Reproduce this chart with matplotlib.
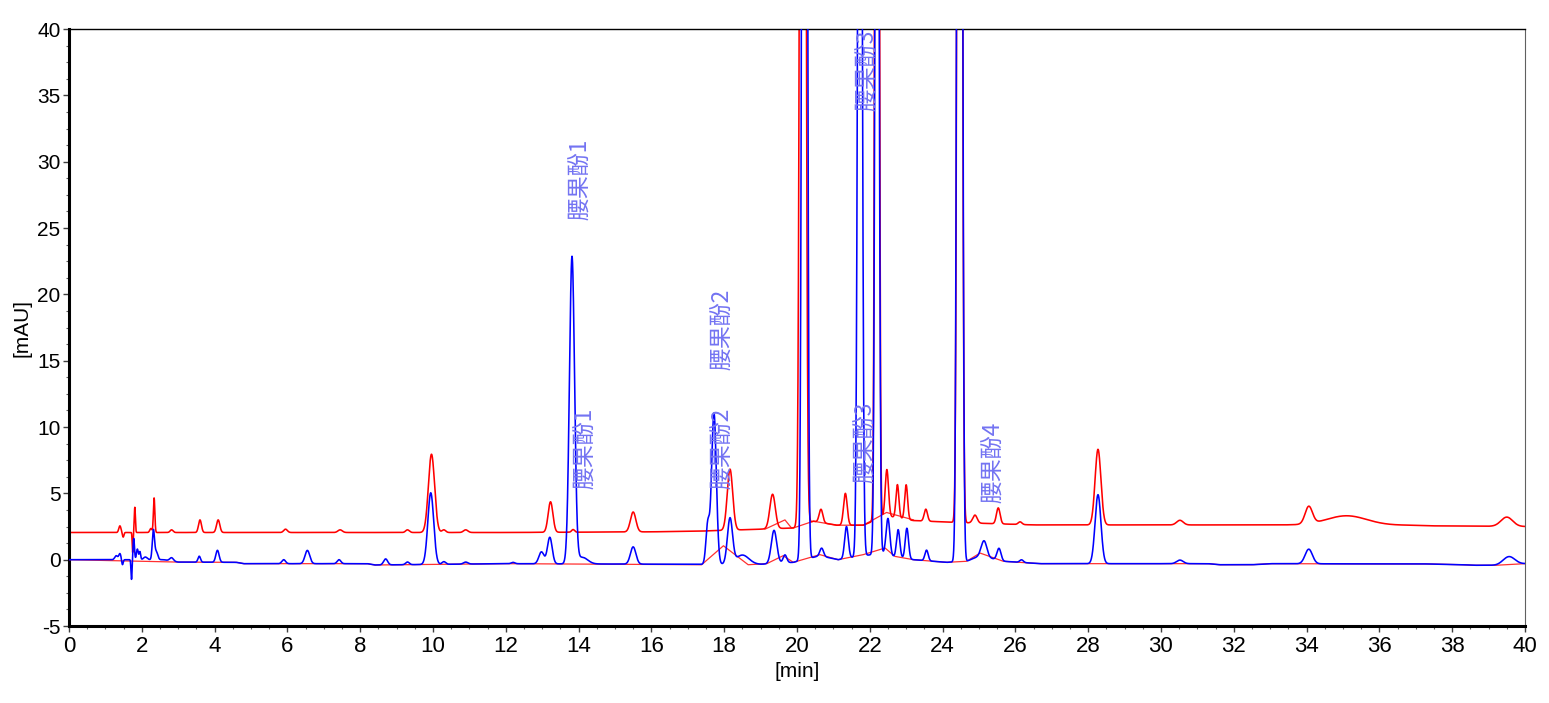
import numpy as np
import matplotlib
matplotlib.use('Agg')
from matplotlib import pyplot as plt
from matplotlib.ticker import MultipleLocator

plt.rcParams['axes.unicode_minus'] = False

# peak tables: retention time [min], height [mAU], width (sigma) [min]
blue_rt = [1.3, 1.4, 1.47, 1.72, 1.78, 1.88, 1.95, 2.1, 2.32, 2.4, 2.82, 3.58, 4.08,
           5.9, 6.55, 7.42, 8.7, 9.3, 9.94, 10.3, 10.9, 12.2, 12.98, 13.21, 13.82, 14.1,
           15.5, 17.55, 17.72, 18.16, 18.5, 19.37, 19.67, 20.21, 20.68, 21.36, 21.73,
           22.2, 22.5, 22.78, 23.02, 23.56, 24.47, 25.14, 25.55, 26.17, 28.27, 30.52,
           34.06, 39.56]
blue_h = [0.3, 0.45, -0.4, -1.5, 1.6, 0.8, 0.6, 0.2, 2.2, 0.6, 0.25, 0.45, 0.9,
          0.3, 1.0, 0.3, 0.45, 0.2, 5.4, 0.2, 0.15, 0.1, 0.9, 2.0, 23.1, 0.5,
          1.3, 3.0, 11.4, 3.4, 0.7, 2.5, 0.6, 200, 0.6, 2.4, 100,
          100, 2.7, 2.1, 2.3, 0.8, 200, 1.2, 0.9, 0.2, 5.2, 0.27,
          1.1, 0.6]
blue_w = [0.04, 0.03, 0.02, 0.015, 0.02, 0.025, 0.02, 0.05, 0.03, 0.04, 0.05, 0.035, 0.045,
          0.05, 0.065, 0.05, 0.055, 0.05, 0.08, 0.05, 0.06, 0.05, 0.07, 0.065, 0.07, 0.15,
          0.075, 0.05, 0.065, 0.07, 0.18, 0.075, 0.05, 0.05, 0.05, 0.05, 0.05,
          0.045, 0.05, 0.045, 0.045, 0.045, 0.05, 0.075, 0.055, 0.05, 0.08, 0.09,
          0.1, 0.16]

red_rt = [1.4, 1.49, 1.75, 1.81, 2.25, 2.34, 2.82, 3.6, 4.1, 5.95, 7.45, 9.3, 9.96,
          10.3, 10.9, 13.23, 13.85, 15.5, 18.16, 19.33, 20.16, 20.66, 21.33, 22.2,
          22.47, 22.76, 23.0, 23.54, 24.47, 24.89, 25.53, 26.13, 28.27, 30.52, 34.06,
          35.1, 39.5]
red_h = [0.5, -0.35, -1.5, 1.9, 0.3, 2.6, 0.2, 0.95, 0.95, 0.25, 0.2, 0.2, 5.9,
         0.2, 0.2, 2.3, 0.2, 1.5, 4.6, 2.6, 200, 1.0, 2.4, 200,
         3.5, 2.5, 2.6, 0.9, 200, 0.6, 1.2, 0.2, 5.7, 0.35, 1.3,
         0.7, 0.7]
red_w = [0.03, 0.02, 0.012, 0.015, 0.03, 0.02, 0.04, 0.04, 0.045, 0.05, 0.06, 0.05, 0.085,
         0.05, 0.06, 0.065, 0.04, 0.075, 0.075, 0.075, 0.055, 0.05, 0.05, 0.04,
         0.045, 0.04, 0.04, 0.045, 0.047, 0.06, 0.05, 0.05, 0.08, 0.09, 0.1,
         0.55, 0.16]

# drifting baselines of both traces
blue_base_t = [0, 2.6, 3.0, 4.6, 4.8, 8.2, 8.4, 12.0, 17.3, 19.0, 19.9, 20.63, 21.13,
               21.82, 22.42, 22.69, 23.2, 24.11, 24.66, 25.03, 25.67, 26.68, 31.3, 31.6,
               32.5, 33.0, 36.0, 37.3, 38.3, 38.6, 39.2, 40]
blue_base_v = [0, 0, -0.18, -0.2, -0.3, -0.3, -0.4, -0.3, -0.35, -0.35, -0.2, 0.3, 0.0,
               0.3, 0.5, 0.2, 0.0, -0.2, -0.12, 0.3, -0.12, -0.3, -0.3, -0.38,
               -0.38, -0.3, -0.32, -0.32, -0.38, -0.42, -0.42, -0.3]
red_base_t = [0, 12, 16, 17.3, 19.0, 19.9, 20.45, 21.09, 21.82, 22.46, 23.2, 24.0, 25.0,
              26.5, 33.5, 36.8, 37.5, 40]
red_base_v = [2.05, 2.05, 2.1, 2.15, 2.3, 2.39, 2.9, 2.6, 2.6, 3.3, 2.95, 2.85, 2.75,
              2.62, 2.62, 2.6, 2.55, 2.5]

# integration baselines (drawn in red)
blue_int_t = [0, 3.0, 4.6, 4.8, 8.2, 8.4, 12.0, 17.38, 17.98, 18.66, 19.17, 19.62, 19.9,
              20.63, 21.13, 21.82, 22.42, 22.69, 23.2, 24.11, 24.66, 25.03, 25.67, 26.68,
              31.3, 31.6, 32.5, 33.0, 36.0, 37.3, 38.3, 38.6, 39.2, 40]
blue_int_v = [0, -0.18, -0.2, -0.3, -0.3, -0.4, -0.3, -0.38, 1.05, -0.38, -0.3, 0.3, -0.2,
              0.38, 0.0, 0.38, 0.88, 0.25, 0.0, -0.2, -0.12, 0.5, -0.12, -0.3,
              -0.3, -0.38, -0.38, -0.3, -0.32, -0.32, -0.38, -0.42, -0.42, -0.3]
red_int_t = [19.12, 19.67, 19.85, 19.9, 20.45, 21.09, 21.82, 22.46, 23.2]
red_int_v = [2.3, 3.0, 2.39, 2.39, 2.9, 2.6, 2.6, 3.56, 3.0]

labels = ['腰果酚1', '腰果酚1', '腰果酚2', '腰果酚2', '腰果酚3', '腰果酚3', '腰果酚4']
label_x = [14.04, 14.18, 17.94, 17.94, 21.92, 21.87, 25.38]
label_y = [25.6, 5.3, 14.3, 5.3, 33.8, 5.8, 4.3]


def trace(t, base_t, base_v, rt, h, w):
    y = np.interp(t, base_t, base_v)
    for r, a, s in zip(rt, h, w):
        y = y + a * np.exp(-0.5 * ((t - r) / s) ** 2)
    return y


t = np.linspace(0, 40, 16001)
blue = trace(t, blue_base_t, blue_base_v, blue_rt, blue_h, blue_w)
red = trace(t, red_base_t, red_base_v, red_rt, red_h, red_w)

fig = plt.figure(figsize=(15.49, 7.03), dpi=100)
ax = fig.add_axes([0.0445, 0.1095, 0.94, 0.8492])

ax.plot(red_int_t, red_int_v, color='#ff3030', lw=0.9, zorder=1)
ax.plot(t, red, color='#ff0000', lw=1.15, zorder=2)
ax.plot(blue_int_t, blue_int_v, color='#ff3030', lw=0.9, zorder=3)
ax.plot(t, blue, color='#0000ff', lw=1.15, zorder=4)

for txt, x, y in zip(labels, label_x, label_y):
    ax.text(x, y, txt, rotation=90, ha='center', va='bottom', color='#7373f2',
            fontsize=16.5, family=['Noto Sans CJK SC', 'DejaVu Sans'], clip_on=True, zorder=5)

ax.set_xlim(0, 40)
ax.set_ylim(-5, 40)
ax.xaxis.set_major_locator(MultipleLocator(2))
ax.xaxis.set_minor_locator(MultipleLocator(0.5))
ax.yaxis.set_major_locator(MultipleLocator(5))
ax.yaxis.set_minor_locator(MultipleLocator(1.25))
ax.tick_params(which='major', direction='out', length=4, width=1, color='#404040')
ax.tick_params(which='minor', direction='out', length=2.5, width=0.8, color='#606060')
ax.tick_params(axis='x', labelsize=16, pad=3)
ax.tick_params(axis='y', labelsize=15, pad=2)
for lab in ax.get_xticklabels() + ax.get_yticklabels():
    lab.set_family('Liberation Sans')

ax.spines['left'].set_linewidth(2.2)
ax.spines['bottom'].set_linewidth(2.2)
ax.spines['top'].set_linewidth(1.0)
ax.spines['right'].set_linewidth(0.8)
ax.spines['right'].set_color('#606060')

ax.set_xlabel('[min]', fontsize=15, family='Liberation Sans', labelpad=4)
ax.set_ylabel('[mAU]', fontsize=15, family='Liberation Sans', labelpad=4)

fig.savefig('out.png', dpi=100)
